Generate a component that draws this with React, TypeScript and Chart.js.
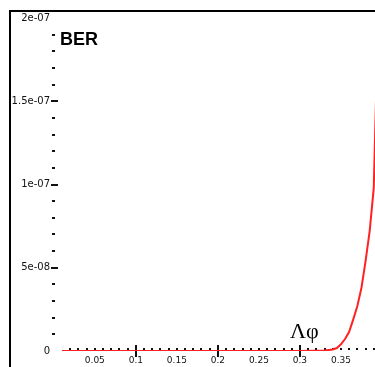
import React, { useEffect, useRef } from "react";
import { Chart, registerables } from "chart.js";

Chart.register(...registerables);

// Phase error (x) and bit error rate (y)
const PHASE_ERROR = [0.01, 0.05, 0.1, 0.15, 0.2, 0.25, 0.3, 0.33, 0.34, 0.345, 0.35, 0.355, 0.36, 0.365, 0.37, 0.375, 0.38, 0.385, 0.39, 0.395, 0.4];
const BER = [0, 0, 0, 0, 0, 0, 0.05e-9, 0.3e-9, 0.9e-9, 1.8e-9, 4.0e-9, 7.2e-9, 11.5e-9, 19e-9, 27e-9, 38e-9, 54e-9, 72e-9, 98e-9, 195e-9, 300e-9];

const Y_TICKS = [0, 5e-8, 1e-7, 1.5e-7, 2e-7];
const Y_TICK_LABELS = ["0", "5e-08", "1e-07", "1.5e-07", "2e-07"];
const Y_MINOR_STEP = 1e-8;

const X_TICKS = [0.05, 0.1, 0.15, 0.2, 0.25, 0.3, 0.35, 0.4, 0.45];
const X_TICK_LABELS = ["0.05", "0.1", "0.15", "0.2", "0.25", "0.3", "0.35", "0.4", "0.45"];
const X_MAJOR = [0.1, 0.2, 0.3, 0.4];
const X_MINOR_STEP = 0.01;

const TITLE = "BER";
const X_LABEL = "Λφ";

const decor = {
  id: "decor",
  beforeDatasetsDraw(chart: any) {
    const { ctx, scales, chartArea } = chart;
    const x = scales.x;
    const y = scales.y;
    ctx.save();
    ctx.fillStyle = "#111";
    for (let v = Y_MINOR_STEP; v < y.max; v += Y_MINOR_STEP) {
      const isMajor = Y_TICKS.some((t) => Math.abs(t - v) < 1e-12);
      const py = Math.round(y.getPixelForValue(v));
      if (isMajor) ctx.fillRect(chartArea.left - 11, py - 1, 7, 2);
      else ctx.fillRect(chartArea.left - 10, py - 1, 3, 2);
    }
    for (let v = 0.02; v < x.max; v += X_MINOR_STEP) {
      const px = Math.round(x.getPixelForValue(v));
      if (px < chartArea.left || px > chartArea.right) continue;
      ctx.fillRect(px - 1, chartArea.bottom - 3, 2, 2);
    }
    X_MAJOR.forEach((v) => {
      const px = Math.round(x.getPixelForValue(v));
      ctx.fillRect(px - 1, chartArea.bottom - 6, 2, 12);
    });
    ctx.restore();
  },
  afterDraw(chart: any) {
    const { ctx, chartArea, width, height } = chart;
    ctx.save();
    ctx.fillStyle = "#000";
    ctx.fillRect(1, 2, 2, height);
    ctx.fillRect(1, 2, width, 2);
    ctx.font = "bold 18px 'Liberation Sans', Arial, sans-serif";
    ctx.textBaseline = "alphabetic";
    ctx.textAlign = "left";
    ctx.fillText(TITLE, chartArea.left - 2, 37);
    ctx.font = "22px 'Liberation Serif', serif";
    ctx.fillText(X_LABEL, 282, 330);
    ctx.restore();
  },
};

export default function App() {
  const ref = useRef<HTMLCanvasElement>(null);
  useEffect(() => {
    if (!ref.current) return;
    const chart = new Chart(ref.current, {
      type: "line",
      data: {
        datasets: [
          {
            data: PHASE_ERROR.map((p, i) => ({ x: p, y: BER[i] })),
            borderColor: "#ff2222",
            borderWidth: 2,
            pointRadius: 0,
            tension: 0,
            fill: false,
          },
        ],
      },
      options: {
        responsive: false,
        animation: false,
        layout: { padding: { left: 0, top: 10, right: 5, bottom: 0 } },
        plugins: { legend: { display: false }, tooltip: { enabled: false } },
        scales: {
          x: {
            type: "linear",
            min: 0.01,
            max: 0.45,
            grid: { display: false, drawTicks: false },
            border: { display: false },
            afterFit: (s: any) => {
              s.height = 37;
              s.paddingLeft = 0;
              s.paddingRight = 0;
            },
            afterBuildTicks: (s: any) => {
              s.ticks = X_TICKS.map((v) => ({ value: v }));
            },
            ticks: {
              autoSkip: false,
              maxRotation: 0,
              padding: 4,
              color: "#111",
              font: { size: 9, family: "'DejaVu Sans', sans-serif" },
              callback: (v: any) => {
                const i = X_TICKS.findIndex((t) => Math.abs(t - Number(v)) < 1e-9);
                return i >= 0 ? X_TICK_LABELS[i] : "";
              },
            },
          },
          y: {
            type: "linear",
            min: 0,
            max: 2e-7,
            grid: { display: false, drawTicks: false },
            border: { display: false },
            afterFit: (s: any) => {
              s.width = 54;
              s.paddingTop = 0;
              s.paddingBottom = 0;
            },
            afterBuildTicks: (s: any) => {
              s.ticks = Y_TICKS.map((v) => ({ value: v }));
            },
            ticks: {
              autoSkip: false,
              padding: 12,
              color: "#111",
              font: { size: 10, family: "'DejaVu Sans', sans-serif" },
              callback: (v: any) => {
                const i = Y_TICKS.findIndex((t) => Math.abs(t - Number(v)) < 1e-12);
                return i >= 0 ? Y_TICK_LABELS[i] : "";
              },
            },
          },
        },
      },
      plugins: [decor],
    });
    return () => chart.destroy();
  }, []);

  return (
    <div style={{ position: "fixed", left: 8, top: 8, width: 367, height: 359, overflow: "hidden", background: "#fff" }}>
      <canvas ref={ref} width={420} height={380} style={{ display: "block" }} />
    </div>
  );
}
